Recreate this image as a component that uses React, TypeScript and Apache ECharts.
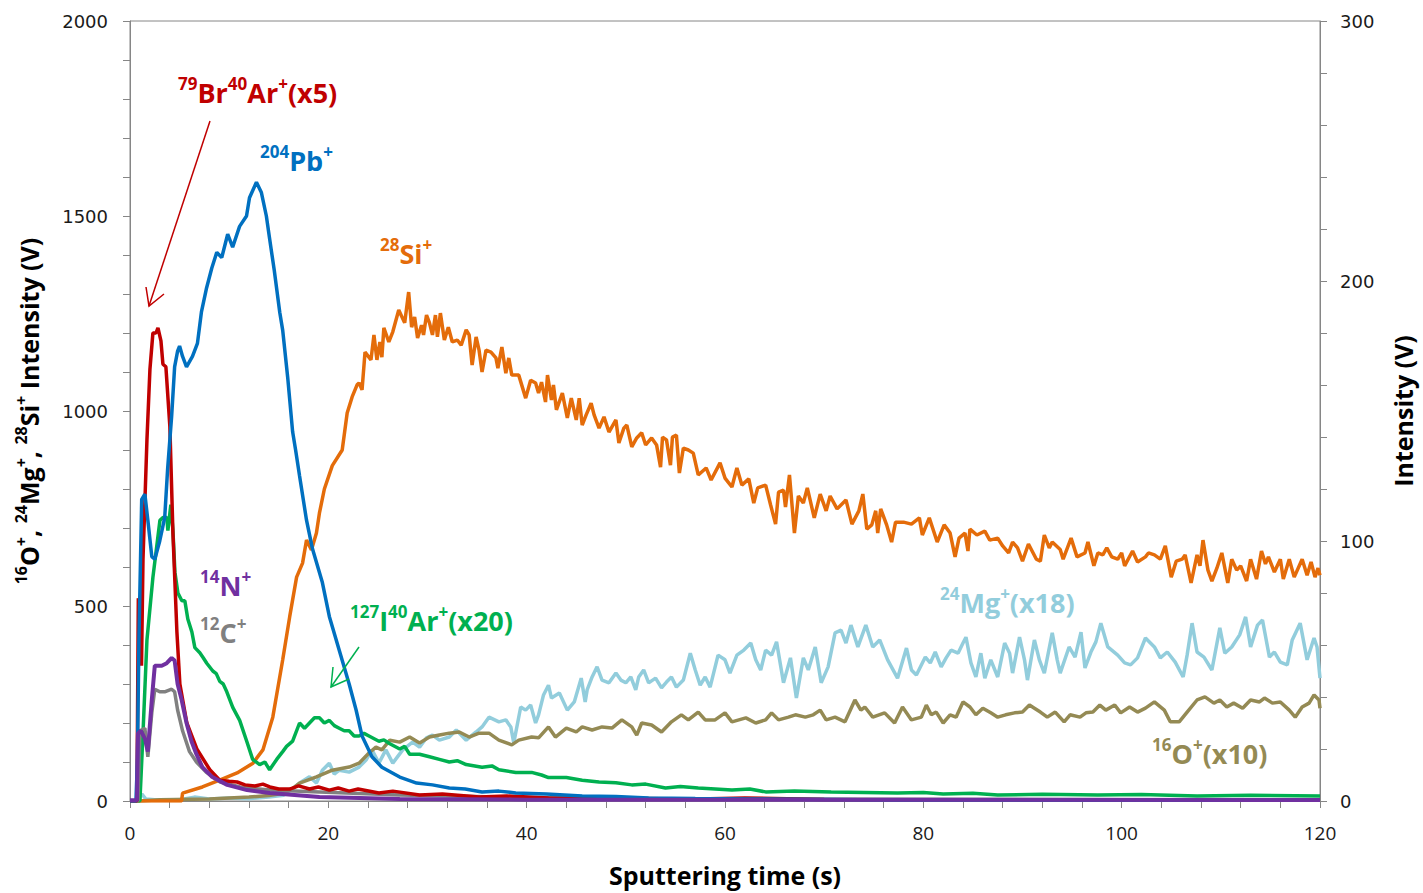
import React, { useEffect, useRef } from "react";
import * as echarts from "echarts";

// ---- Data (sputtering time in s, intensity in V) ----
// Left axis (16O+, 24Mg+, 28Si+)
const siData: number[][] = [[0,0],[5.2,0],[5.3,20],[7.3,36],[9.1,54],[10.8,72],[12.4,97],[13.4,131],[14.4,215],[15.4,362],[16.1,472],[16.8,574],[17.4,610],[17.8,669],[18.3,644],[18.8,687],[19.1,738],[19.6,800],[20.4,860],[21.4,900],[21.9,995],[22.4,1036],[22.9,1067],[23.1,1072],[23.4,1054],[23.7,1151],[24.3,1131],[24.6,1195],[24.9,1131],[25.2,1177],[25.4,1138],[25.6,1213],[26.1,1177],[26.5,1203],[27.1,1259],[27.7,1226],[28.1,1305],[28.4,1215],[28.7,1241],[29.0,1187],[29.4,1220],[29.6,1195],[29.9,1246],[30.2,1226],[30.5,1195],[30.8,1246],[31.0,1190],[31.3,1251],[31.7,1182],[32.1,1215],[32.5,1177],[33.0,1182],[33.4,1169],[33.9,1208],[34.2,1195],[34.5,1118],[34.9,1190],[35.2,1156],[35.5,1100],[35.9,1156],[36.4,1151],[36.9,1136],[37.1,1110],[37.5,1164],[37.9,1097],[38.2,1136],[38.5,1092],[39.2,1092],[39.9,1033],[40.4,1079],[40.9,1072],[41.2,1046],[41.5,1074],[41.9,1023],[42.1,1092],[42.5,1028],[42.7,1067],[43.0,1003],[43.6,1046],[44.1,982],[44.5,1033],[45.0,977],[45.3,1033],[45.6,964],[46.0,990],[46.5,1020],[46.8,990],[47.3,956],[47.8,985],[48.3,946],[49.0,977],[49.3,918],[49.8,956],[50.1,964],[50.6,908],[51.1,931],[51.6,944],[52.0,913],[52.6,931],[53.1,913],[53.5,856],[53.7,933],[54.1,926],[54.5,861],[54.7,933],[55.1,938],[55.4,841],[55.8,905],[56.3,900],[56.8,892],[57.3,836],[58.1,854],[58.6,823],[59.5,867],[60.0,828],[60.7,805],[61.2,854],[61.7,810],[62.4,826],[62.9,764],[63.3,803],[64.1,810],[64.6,759],[65.1,710],[65.4,792],[65.9,797],[66.1,754],[66.5,836],[67.0,687],[67.4,782],[67.9,764],[68.3,803],[69.0,726],[69.6,787],[70.2,744],[70.6,782],[71.3,749],[72.2,772],[72.8,710],[73.5,744],[73.9,787],[74.3,697],[74.8,708],[75.2,744],[75.4,687],[75.7,749],[76.3,708],[76.8,664],[77.2,715],[78.0,715],[78.8,710],[79.6,726],[79.9,682],[80.6,726],[81.4,664],[82.1,708],[82.7,687],[83.2,626],[83.6,674],[84.2,687],[84.5,641],[84.7,697],[85.4,682],[86.2,692],[86.7,669],[87.5,674],[88.0,654],[88.6,636],[89.0,664],[89.5,649],[90.0,615],[90.6,659],[91.4,620],[91.8,615],[92.2,682],[92.7,649],[93.0,664],[93.8,645],[94.1,620],[94.9,674],[95.5,626],[96.3,636],[96.6,664],[97.2,603],[97.6,636],[98.1,631],[98.5,649],[99.0,626],[99.6,620],[100.0,636],[100.3,603],[101.1,641],[101.6,613],[102.4,626],[102.7,636],[103.3,631],[103.9,620],[104.4,654],[105.0,574],[105.5,615],[106.1,620],[106.4,631],[107.0,559],[107.6,631],[107.9,603],[108.2,669],[108.7,592],[109.1,564],[109.6,597],[110.1,636],[110.7,559],[111.1,620],[111.6,592],[112.0,603],[112.6,564],[113.0,620],[113.6,569],[114.1,641],[114.5,608],[114.8,626],[115.4,587],[116.0,620],[116.3,569],[116.9,620],[117.4,574],[118.2,620],[118.7,579],[119.1,613],[119.5,574],[119.8,597],[120.0,579]];

const mgData: number[][] = [[0,0],[0.8,0],[1.2,18],[1.6,5],[2.5,3],[5,3],[6.5,10],[8,5],[10,8],[12,6],[14,10],[15.5,15],[16.3,30],[17.1,46],[18.1,62],[18.8,46],[19.4,79],[20.1,97],[20.6,69],[21.1,79],[22.1,74],[23.1,87],[23.8,105],[24.4,131],[25.1,97],[25.8,131],[26.5,97],[27.5,131],[28.5,151],[29.2,138],[29.9,162],[30.5,169],[31.2,156],[32.2,164],[32.9,182],[33.9,156],[34.9,177],[35.5,190],[36.2,215],[37.2,203],[37.9,208],[38.4,190],[38.7,149],[39.4,241],[39.9,233],[40.4,246],[40.9,200],[41.2,221],[41.7,272],[42.2,297],[42.5,264],[43.3,277],[44.1,233],[44.8,254],[45.5,315],[45.9,254],[46.1,285],[46.6,318],[47.1,344],[47.6,310],[48.3,303],[49.0,328],[49.5,310],[50.0,303],[50.5,318],[51.0,285],[51.3,318],[51.8,336],[52.3,303],[53.0,315],[53.6,290],[54.1,305],[54.6,318],[55.1,292],[55.8,310],[56.5,379],[57.0,336],[57.5,297],[58.0,318],[58.5,292],[59.3,374],[60.0,362],[60.5,328],[61.2,374],[61.9,387],[62.6,405],[63.1,362],[63.6,336],[64.1,387],[64.7,374],[65.2,408],[65.9,303],[66.6,367],[67.2,264],[67.9,367],[68.4,336],[69.1,395],[69.7,303],[70.4,344],[71.1,431],[71.7,438],[72.2,405],[72.7,451],[73.4,395],[74.2,451],[74.9,395],[75.6,413],[76.4,362],[77.4,315],[78.3,392],[78.8,336],[79.3,323],[80.2,369],[80.7,354],[81.2,382],[81.8,344],[82.3,367],[82.8,387],[83.5,379],[84.0,405],[84.3,420],[84.8,354],[85.3,318],[85.8,379],[86.2,315],[86.8,362],[87.5,318],[88.2,405],[88.7,379],[89.0,328],[89.7,420],[90.2,362],[90.5,310],[91.2,413],[91.7,362],[92.2,328],[93.0,431],[93.5,362],[93.8,328],[94.7,395],[95.3,369],[95.9,433],[96.3,341],[96.9,382],[97.4,408],[97.9,456],[98.6,395],[99.6,374],[100.3,354],[100.9,349],[101.6,367],[102.4,418],[103.3,395],[103.9,367],[104.6,382],[105.4,356],[106.2,318],[106.6,374],[107.1,456],[107.6,382],[108.3,369],[109.1,336],[109.9,444],[110.4,379],[111.1,395],[111.9,426],[112.5,472],[113.0,395],[113.7,451],[114.2,464],[114.9,369],[115.4,382],[116.0,356],[116.7,349],[117.2,413],[118.0,456],[118.7,362],[119.4,418],[119.7,395],[120.0,315]];

const oData: number[][] = [[0,0],[1,0],[3,3],[8,5],[10,8],[12,10],[14,14],[15.5,20],[16.3,30],[17.1,46],[18.8,62],[20.4,79],[22.1,87],[23.1,97],[24.1,123],[24.8,138],[25.4,131],[26.2,156],[27.2,151],[28.2,164],[29.2,149],[30.2,164],[31.2,169],[32.2,174],[33.2,177],[34.2,164],[35.2,174],[36.2,174],[37.2,156],[38.5,144],[39.2,156],[40.5,164],[41.2,162],[42.2,190],[42.9,164],[44.0,187],[45.0,177],[45.6,190],[46.6,182],[47.6,190],[48.6,187],[49.6,208],[50.6,190],[51.1,169],[51.6,200],[52.6,195],[53.6,177],[54.6,203],[55.6,221],[56.3,208],[57.3,228],[58.0,208],[59.0,208],[60.0,226],[60.7,203],[62.1,213],[63.1,200],[64.1,208],[64.7,226],[65.4,208],[66.4,215],[67.1,221],[68.1,215],[68.9,221],[69.6,233],[70.2,208],[71.1,215],[72.1,203],[73.1,259],[73.7,233],[74.1,241],[74.9,215],[76.1,226],[77.1,200],[77.9,241],[78.8,208],[79.8,215],[80.3,246],[80.8,221],[81.3,228],[82.0,200],[82.7,221],[83.3,215],[84.0,254],[84.7,241],[85.3,221],[86.0,238],[86.8,226],[87.5,215],[88.3,221],[89.2,226],[90.0,228],[90.7,246],[91.2,238],[91.8,228],[92.5,215],[93.3,228],[94.2,203],[94.8,221],[95.8,215],[96.4,226],[97.1,228],[97.8,246],[98.4,233],[99.3,246],[99.9,226],[100.8,241],[101.6,228],[102.4,238],[103.3,254],[104.3,233],[104.9,203],[105.8,203],[106.6,228],[107.6,259],[108.4,267],[109.3,251],[109.9,259],[110.6,241],[111.3,251],[112.2,238],[113.0,259],[113.9,254],[114.4,264],[115.2,251],[116.0,254],[116.9,233],[117.5,215],[118.2,241],[118.9,251],[119.4,272],[119.9,259],[120.0,238]];

// Right axis (Intensity, V)
const pbData: number[][] = [[0,0],[0.6,0],[0.75,16],[0.9,62],[1.18,116],[1.5,118],[1.8,108],[2.2,94],[2.5,93],[3.0,100],[3.5,109],[3.8,128],[4.2,148],[4.5,167],[4.8,173],[5.0,175],[5.3,171],[5.7,167],[6.3,171],[6.8,176],[7.2,188],[7.7,197],[8.25,205],[8.75,211],[9.25,209],[9.85,218],[10.35,213],[11.05,221],[11.75,225],[12.05,232],[12.75,238],[13.25,234],[13.75,225],[14.05,217],[14.55,204],[15.1,188],[15.4,181],[15.9,163],[16.4,142],[16.7,135],[17.1,125],[17.8,108],[18.4,97],[19.4,84],[20.1,71],[21.1,58],[22.1,45],[22.8,35],[23.4,25],[24.4,17],[25.4,13],[27.2,9.2],[28.9,6.9],[30.5,6.2],[32.2,5.0],[33.8,4.6],[35.5,3.5],[37.2,3.8],[38.9,3.1],[42.0,2.7],[45.6,1.9],[49.0,1.7],[52.3,1.2],[57.0,1.0],[62.4,0.8],[70,0.6],[77.4,0.4],[90,0.4],[120,0.3]];

const brArData: number[][] = [[0,0],[0.7,0],[0.84,78],[1.0,70],[1.16,52],[1.31,93],[1.71,139],[2.01,166],[2.31,180],[2.62,180],[2.82,182],[3.12,177],[3.32,168],[3.62,167],[4.02,144],[4.33,103],[4.73,65],[5.03,45],[5.73,30],[6.74,20],[8.05,12],[9.05,8],[10.0,7.6],[10.8,7.3],[11.6,6.2],[12.6,5.8],[13.4,6.5],[14.1,5.4],[15.0,4.6],[16.1,4.6],[17.0,5.8],[18.1,4.6],[19.0,5.4],[20.1,4.2],[21.0,5.0],[22.1,3.8],[23.0,4.6],[25.1,3.1],[26.5,3.8],[29.2,2.3],[31.5,2.7],[35.2,1.5],[38.0,1.9],[42.2,1.2],[50,1.0],[57.3,0.8],[62,1.2],[70,0.6],[80,0.5],[120,0.4]];

const iArData: number[][] = [[0,0],[1.0,0],[1.31,26],[1.71,62],[2.31,86],[3.02,108],[3.32,109],[3.72,109],[3.82,104],[4.12,114],[4.33,104],[4.53,88],[4.83,80],[5.23,77],[5.53,77],[5.83,70],[6.24,65],[6.54,59],[7.04,57],[7.4,55],[7.74,53],[8.35,50],[8.7,49],[9.05,46],[9.4,45],[9.76,42],[10.36,36],[11.06,31],[11.77,23],[12.37,16],[13.08,14],[13.6,15],[14.08,12],[14.79,16],[15.4,19],[15.79,21],[16.4,23],[17.1,30],[17.6,28],[18.1,30],[18.6,32],[19.1,32],[19.6,30],[20.1,31],[20.6,29],[21.1,28],[21.6,27],[22.1,27],[22.6,25],[23.1,25],[23.6,26],[24.1,25],[25.1,23],[25.6,23.5],[26.2,22],[27.2,20],[27.7,21],[28.2,18],[29.2,18],[30.2,17],[31.2,16],[32.2,15],[33.0,15.5],[33.9,14],[35.5,13],[36.5,13.5],[37.2,12],[38.9,11],[40.5,11],[41.5,10],[42.2,9],[44.0,9],[45.6,8],[47.3,7.3],[49,7],[50.6,6.2],[52,6.5],[54.0,5],[55.5,5.6],[57.3,5],[59,4.6],[60.7,4.2],[62.5,4.6],[64.1,3.5],[67,3.8],[70.7,3.5],[74,3.3],[77.4,3.1],[80,3.3],[82,2.7],[85,3.0],[87.5,2.3],[92,2.6],[97.6,2.3],[102,2.5],[107.6,1.9],[113,2.2],[120,1.9]];

const nData: number[][] = [[0,0.3],[0.7,0.3],[0.8,26],[1.1,27],[1.5,24],[1.8,19],[2.2,39],[2.5,52],[2.8,52],[3.2,52],[3.7,53],[4.2,55],[4.5,54],[4.8,45],[5.2,39],[5.7,30],[6.2,23],[6.7,18],[7.3,13],[8.3,9.2],[9.8,6.2],[11.8,4.2],[14.1,3.1],[19.1,1.5],[27.2,0.8],[40,0.5],[120,0.4]];

const cData: number[][] = [[0,0],[0.8,0],[1.0,27],[1.5,28],[1.8,17],[2.2,34],[2.5,43],[3.0,42],[3.5,42],[4.2,43],[4.5,42],[4.8,35],[5.3,27],[6.0,19],[6.7,15],[7.7,11],[9.1,7.3],[11.1,5.4],[14.1,4.2],[19.1,3.5],[27.2,2.3],[37.2,1.5],[57.3,0.8],[120,0.4]];

const COLORS = {
  si: "#E46C0A",
  mg: "#92CDDC",
  o: "#948A54",
  pb: "#0070C0",
  brar: "#C00000",
  iar: "#00B050",
  n: "#7030A0",
  c: "#808080",
};

const TITLE_FONT = "'Open Sans', 'Liberation Sans', sans-serif";
const AXIS_COLOR = "#868686";

function rich(color: string, base: number, sup: number) {
  return {
    b: { fontSize: base, fontWeight: "bold", fontFamily: TITLE_FONT, color, fill: color, lineHeight: Math.round(base * 1.25) },
    s: { fontSize: sup, fontWeight: "bold", fontFamily: TITLE_FONT, color, fill: color, verticalAlign: "top", lineHeight: Math.round(sup * 1.2) },
  };
}

function label(text: string, x: number, y: number, color: string) {
  return {
    type: "text",
    x,
    y,
    z: 100,
    style: {
      text,
      fill: color,
      fontSize: 27,
      fontWeight: "bold",
      fontFamily: TITLE_FONT,
      align: "left",
      verticalAlign: "middle",
      rich: rich(color, 27, 17),
    },
  };
}

function line(name: string, data: number[][], color: string, yAxisIndex: number, width = 3.5) {
  return {
    name,
    type: "line",
    data,
    yAxisIndex,
    showSymbol: false,
    symbol: "none",
    lineStyle: { color, width },
    itemStyle: { color },
    emphasis: { disabled: true },
  };
}

const plain = (v: number) => String(v);

export default function App() {
  const ref = useRef<HTMLDivElement>(null);
  useEffect(() => {
    if (!ref.current) return;
    const chart = echarts.init(ref.current, undefined, { renderer: "svg" });
    const tickCommon = { show: true, inside: false, length: 7, lineStyle: { color: AXIS_COLOR, width: 1 } };
    chart.setOption({
      animation: false,
      backgroundColor: "#ffffff",
      grid: { left: 130, right: 100, top: 21, bottom: 92, show: true, borderColor: AXIS_COLOR, borderWidth: 1, containLabel: false },
      tooltip: { show: false },
      xAxis: {
        type: "value",
        min: 0,
        max: 120,
        interval: 20,
        axisLine: { show: true, lineStyle: { color: AXIS_COLOR, width: 1 } },
        axisTick: tickCommon,
        minorTick: { ...tickCommon, splitNumber: 5 },
        splitLine: { show: false },
        minorSplitLine: { show: false },
        axisLabel: { margin: 22, fontSize: 19, color: "#1a1a1a", fontFamily: "'Open Sans', sans-serif", formatter: plain },
        name: "Sputtering time (s)",
        nameLocation: "middle",
        nameGap: 61,
        nameTextStyle: { fontSize: 25, fontWeight: "bold", color: "#000", fontFamily: TITLE_FONT },
      },
      yAxis: [
        {
          type: "value",
          position: "left",
          min: 0,
          max: 2000,
          interval: 500,
          axisLine: { show: true, lineStyle: { color: AXIS_COLOR, width: 1 } },
          axisTick: tickCommon,
          minorTick: { ...tickCommon, splitNumber: 5 },
          splitLine: { show: false },
          axisLabel: { margin: 22, fontSize: 18, color: "#1a1a1a", fontFamily: "'DejaVu Sans', sans-serif", formatter: plain },
          name: "{s|16}{b|O}{s|+}{b|, }{s|24}{b|Mg}{s|+}{b|, }{s|28}{b|Si}{s|+}{b| Intensity (V)}",
          nameLocation: "middle",
          nameRotate: 90,
          nameGap: 86,
          nameTextStyle: { fontSize: 25, fontWeight: "bold", color: "#000", fontFamily: TITLE_FONT, rich: rich("#000", 25, 16) },
        },
        {
          type: "value",
          position: "right",
          min: 0,
          max: 300,
          interval: 100,
          axisLine: { show: true, lineStyle: { color: AXIS_COLOR, width: 1 } },
          axisTick: tickCommon,
          minorTick: { ...tickCommon, splitNumber: 5 },
          splitLine: { show: false },
          axisLabel: { margin: 20, fontSize: 18, color: "#1a1a1a", fontFamily: "'DejaVu Sans', sans-serif", formatter: plain },
          name: "Intensity (V)",
          nameLocation: "middle",
          nameRotate: 90,
          nameGap: 70,
          nameTextStyle: { fontSize: 25, fontWeight: "bold", color: "#000", fontFamily: TITLE_FONT },
        },
      ],
      series: [
        line("24Mg+ (x18)", mgData, COLORS.mg, 0),
        line("16O+ (x10)", oData, COLORS.o, 0),
        line("28Si+", siData, COLORS.si, 0),
        line("127I40Ar+ (x20)", iArData, COLORS.iar, 1),
        line("12C+", cData, COLORS.c, 1),
        line("79Br40Ar+ (x5)", brArData, COLORS.brar, 1),
        line("204Pb+", pbData, COLORS.pb, 1),
        line("14N+", nData, COLORS.n, 1, 4),
      ],
      graphic: [
        label("{s|79}{b|Br}{s|40}{b|Ar}{s|+}{b|(x5)}", 178, 92, COLORS.brar),
        label("{s|204}{b|Pb}{s|+}", 260, 160, COLORS.pb),
        label("{s|28}{b|Si}{s|+}", 380, 253, COLORS.si),
        label("{s|14}{b|N}{s|+}", 200, 585, COLORS.n),
        label("{s|12}{b|C}{s|+}", 200, 632, COLORS.c),
        label("{s|127}{b|I}{s|40}{b|Ar}{s|+}{b|(x20)}", 350, 620, COLORS.iar),
        label("{s|24}{b|Mg}{s|+}{b|(x18)}", 940, 602, COLORS.mg),
        label("{s|16}{b|O}{s|+}{b|(x10)}", 1152, 753, COLORS.o),
        { type: "line", z: 100, shape: { x1: 210, y1: 121, x2: 149, y2: 306 }, style: { stroke: COLORS.brar, lineWidth: 1.5 } },
        { type: "polyline", z: 100, shape: { points: [[146, 287], [149, 306], [164, 294]] }, style: { stroke: COLORS.brar, lineWidth: 1.5, fill: "none" } },
        { type: "line", z: 100, shape: { x1: 359, y1: 647, x2: 331, y2: 687 }, style: { stroke: COLORS.iar, lineWidth: 1.5 } },
        { type: "polyline", z: 100, shape: { points: [[333, 667], [331, 687], [349, 679]] }, style: { stroke: COLORS.iar, lineWidth: 1.5, fill: "none" } },
      ],
    });
    return () => chart.dispose();
  }, []);
  return <div ref={ref} style={{ position: "absolute", left: 0, top: 0, width: 1423, height: 893 }} />;
}
